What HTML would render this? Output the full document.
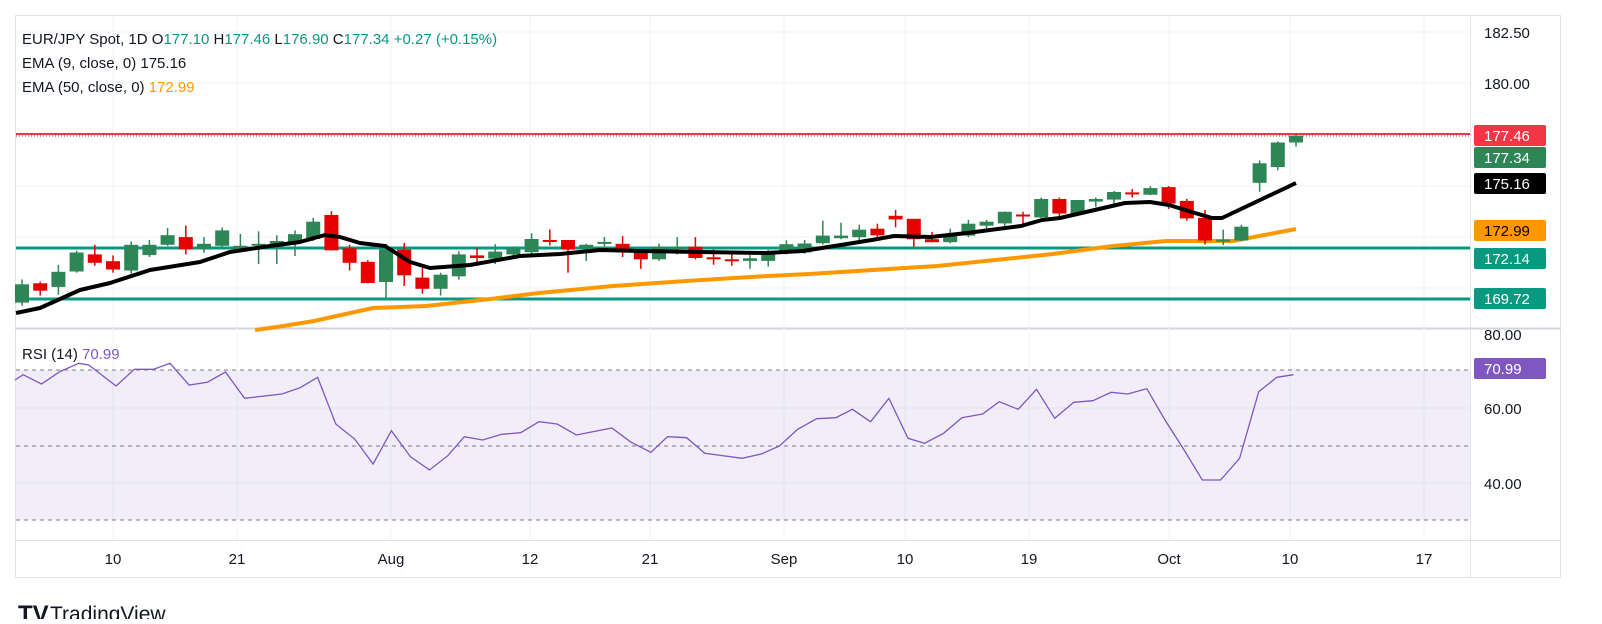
<!DOCTYPE html>
<html><head><meta charset="utf-8"><style>
body{margin:0;background:#fff;width:1602px;height:619px;overflow:hidden;font-family:"Liberation Sans",sans-serif}
</style></head><body>
<svg id="s" width="1602" height="619" xmlns="http://www.w3.org/2000/svg" font-family="Liberation Sans, sans-serif"></svg>
<script>
const S=document.getElementById('s');let h='';
h+='<rect x="15.5" y="15.5" width="1545" height="562" fill="none" stroke="#e0e3eb"/>';
h+='<line x1="15" y1="328.5" x2="1561" y2="328.5" stroke="#d1d4dc" stroke-width="2"/>';
h+='<line x1="1470.5" y1="15" x2="1470.5" y2="578" stroke="#e0e3eb"/>';
h+='<line x1="15" y1="540.5" x2="1561" y2="540.5" stroke="#e0e3eb"/>';
const dates=[[113,'10'],[237,'21'],[391,'Aug'],[530,'12'],[650,'21'],[784,'Sep'],[905,'10'],[1029,'19'],[1169,'Oct'],[1290,'10'],[1424,'17']];
dates.forEach(d=>{h+=`<line x1="${d[0]}" y1="16" x2="${d[0]}" y2="540" stroke="#f0f3fa"/>`;h+=`<text x="${d[0]}" y="564" font-size="15" text-anchor="middle" fill="#131722">${d[1]}</text>`});
[32,83,135,186,237,288].forEach(y=>h+=`<line x1="16" y1="${y}" x2="1470" y2="${y}" stroke="#f0f3fa"/>`);
[408,483].forEach(y=>h+=`<line x1="16" y1="${y}" x2="1470" y2="${y}" stroke="#f0f3fa"/>`);
h+='<rect x="16" y="370" width="1454" height="150" fill="#7e57c2" fill-opacity="0.1"/>';
[370,446,520].forEach(y=>h+=`<line x1="16" y1="${y}" x2="1470" y2="${y}" stroke="#787b86" stroke-dasharray="4,4"/>`);
h+='<line x1="16" y1="248" x2="1470" y2="248" stroke="#089981" stroke-width="3"/>';
h+='<line x1="16" y1="299" x2="1470" y2="299" stroke="#089981" stroke-width="3"/>';
h+='<line x1="16" y1="134" x2="1470" y2="134" stroke="#f23645" stroke-width="2"/>';
h+='<line x1="16" y1="136" x2="1470" y2="136" stroke="#555" stroke-width="1" stroke-dasharray="1,2"/>';
const e50=[[255,330],[277,327],[314,321],[373,308],[426,306],[490,299],[539,293],[613,286],[686,281],[768,276],[809,274],[937,266],[1053,254],[1113,246],[1166,241],[1233,241],[1296,229]];
h+=`<polyline points="${e50.join(' ')}" fill="none" stroke="#ff9800" stroke-width="4" stroke-linejoin="round"/>`;
const C=[['G',284.3,302.6,279.5,305.8],['R',283.3,290.7,281.7,295.5],['G',271.8,286.9,265,294.6],['G',252.5,271.5,250.6,272.7],['R',254.4,262.8,244.8,265.7],['R',261.2,269.5,255.4,272.7],['G',244.8,270.5,241.6,273.7],['G',244.8,255.1,240,257],['G',235.2,244.8,228.1,245.8],['R',237.1,249.3,225.6,254.4],['G',243.8,248.7,237.1,252.8],['G',230.4,245.8,227.5,247],['G',245.8,248.7,233.9,251.9],['G',243.8,245.8,231.3,264.1],['G',241,245.8,235.2,264.1],['G',234.2,241.6,230.4,256],['G',221.7,239,217.8,241],['R',215,250.3,211.1,250.6],['R',248.3,262.8,244.8,270.5],['R',261.8,283,260.2,283.3],['G',249.6,282,243.8,297.8],['R',249.6,275.3,242.9,285.9],['R',277.6,288.8,267.9,293.6],['G',274.7,288.8,272.7,295.5],['G',254.4,276.3,251.2,279.5],['R',255.4,258,248,266],['G',251.6,258.6,244.2,264.1],['G',248.7,254.4,246.4,256],['G',239,252.2,233.3,254.4],['R',240,240.6,229.4,245.4],['R',240,249.6,240,272.7],['G',244.8,248.3,243.8,260.9],['G',241.9,242.6,237.1,246.4],['R',243.8,252.2,236.1,257],['R',252.2,259.3,249.6,268.9],['G',246.7,259.3,243.8,260.9],['G',247.4,248.7,237.1,254.4],['R',246.7,258,237.1,259.3],['R',257.3,259.3,249.6,264.7],['R',259.3,260.9,252.8,265.7],['G',258.3,260.9,255.1,268.9],['G',253.2,260.9,250,266.6],['G',244.2,253.2,240.3,254.4],
['G',243.5,252.4,239.9,253.7],['G',235.6,243.2,220.7,244.5],['G',235.6,238.2,222.7,239.2],['G',229.7,237.2,224.7,241.2],['R',228.7,235.3,223.7,240.2],['R',215.8,219.4,209.9,227.3],['R',218.8,239.2,218.8,247.1],['R',239.2,242.2,232,242.5],['G',234.6,242.2,228.7,243.2],['G',223.7,235.6,219.8,237.2],['G',221.7,225.7,219.8,230.6],['G',211.8,223.4,211.5,228.7],['R',214.5,215.1,211.8,227.3],['G',199,217.4,197.6,218.1],['R',199,213.5,197.6,218.1],['G',200,213.8,200,214.8],['G',199,201.6,197.6,206.9],['G',192,199.6,191,203.6],['R',192.4,193,189,197.6],['G',188.1,194.7,186.1,195.3],['R',187.1,203.6,186.1,208.9],['R',200.9,218.4,199,220.7],['R',217.8,240.5,209.9,244.5],['G',239.6,240.5,229.7,245.2],['G',226.7,240.5,224.7,241.2],['G',163.3,182.8,160.4,191.7],['G',142.5,167,141.5,170.3],['G',135.6,142.5,134.6,146.5]];
C.forEach((c,i)=>{const x=22+i*18.2;const col=c[0]=='G'?'#2e8555':'#e60000';
h+=`<line x1="${x}" y1="${c[3]}" x2="${x}" y2="${c[4]}" stroke="${col}" stroke-width="1.5"/>`;
h+=`<rect x="${x-7}" y="${c[1]}" width="14" height="${Math.max(c[2]-c[1],2)}" fill="${col}"/>`;});
const e9=[[16,313],[40,308],[60,299],[80,290],[110,283],[150,270],[200,262],[230,252],[270,246],[300,242],[325,235],[340,237],[360,243],[385,246],[410,262],[430,268],[470,265],[520,256],[560,254],[600,250],[640,251],[700,252],[766,253],[803,251],[872,240],[894,236],[931,237],[967,233],[1021,226],[1042,220],[1060,218],[1125,203],[1150,202],[1169,205],[1195,213],[1212,218],[1222,218],[1296,183]];
h+=`<polyline points="${e9.join(' ')}" fill="none" stroke="#000" stroke-width="4" stroke-linejoin="round"/>`;
const r=[[18,120],[28,104],[50,132],[72,95],[95,70],[107,75],[140,138],[162,88],[185,88],[205,70],[228,135],[250,127],[272,96],[295,175],[340,162],[362,143],[383,112],[405,252],[428,298],[450,372],[472,272],[495,350],[518,390],[540,347],[560,290],[582,300],[605,283],[628,278],[650,245],[672,252],[695,285],[738,264],[760,305],[785,337],[805,290],[828,293],[850,340],[895,355],[918,342],[940,318],[962,268],[985,236],[1008,233],[1028,208],[1050,245],[1072,175],[1095,295],[1115,310],[1138,280],[1160,233],[1185,222],[1205,185],[1228,208],[1250,148],[1272,235],[1295,187],[1318,182],[1340,157],[1360,162],[1383,146],[1405,240],[1428,330],[1450,420],[1472,420],[1495,355],[1518,155],[1540,112],[1560,104]].map(p=>[(p[0]/1.206).toFixed(1),(340+p[1]/3).toFixed(1)]);
h+=`<polyline points="${r.join(' ')}" fill="none" stroke="#7e57c2" stroke-width="1.3"/>`;
h+='<text x="22" y="44" font-size="15" fill="#131722">EUR/JPY Spot, 1D  O<tspan fill="#089981">177.10</tspan>  H<tspan fill="#089981">177.46</tspan>  L<tspan fill="#089981">176.90</tspan>  C<tspan fill="#089981">177.34</tspan>  <tspan fill="#089981">+0.27 (+0.15%)</tspan></text>';
h+='<text x="22" y="68" font-size="15" fill="#131722">EMA (9, close, 0)  175.16</text>';
h+='<text x="22" y="92" font-size="15" fill="#131722">EMA (50, close, 0)  <tspan fill="#ff9800">172.99</tspan></text>';
h+='<text x="22" y="359" font-size="15" fill="#131722">RSI (14)  <tspan fill="#7e57c2">70.99</tspan></text>';
[[182.50,38],[180.00,89]].forEach(a=>h+=`<text x="1484" y="${a[1]}" font-size="15" fill="#131722">${a[0].toFixed(2)}</text>`);
[['80.00',340],['60.00',414],['40.00',489]].forEach(a=>h+=`<text x="1484" y="${a[1]}" font-size="15" fill="#131722">${a[0]}</text>`);
const B=[['177.46',125,'#f23645','#fff'],['177.34',147,'#2e8555','#fff'],['175.16',173,'#000','#fff'],['172.99',220,'#ff9800','#000'],['172.14',248,'#089981','#fff'],['169.72',288,'#089981','#fff'],['70.99',358,'#7e57c2','#fff']];
B.forEach(b=>{h+=`<rect x="1474" y="${b[1]}" width="72" height="21" rx="2" fill="${b[2]}"/><text x="1484" y="${b[1]+16}" font-size="15" fill="${b[3]}">${b[0]}</text>`;});
h+='<text x="18" y="622" font-size="24" font-weight="bold" fill="#131722">TV</text><text x="50" y="621" font-size="21" fill="#131722">TradingView</text>';
S.innerHTML=h;
</script>
</body></html>
